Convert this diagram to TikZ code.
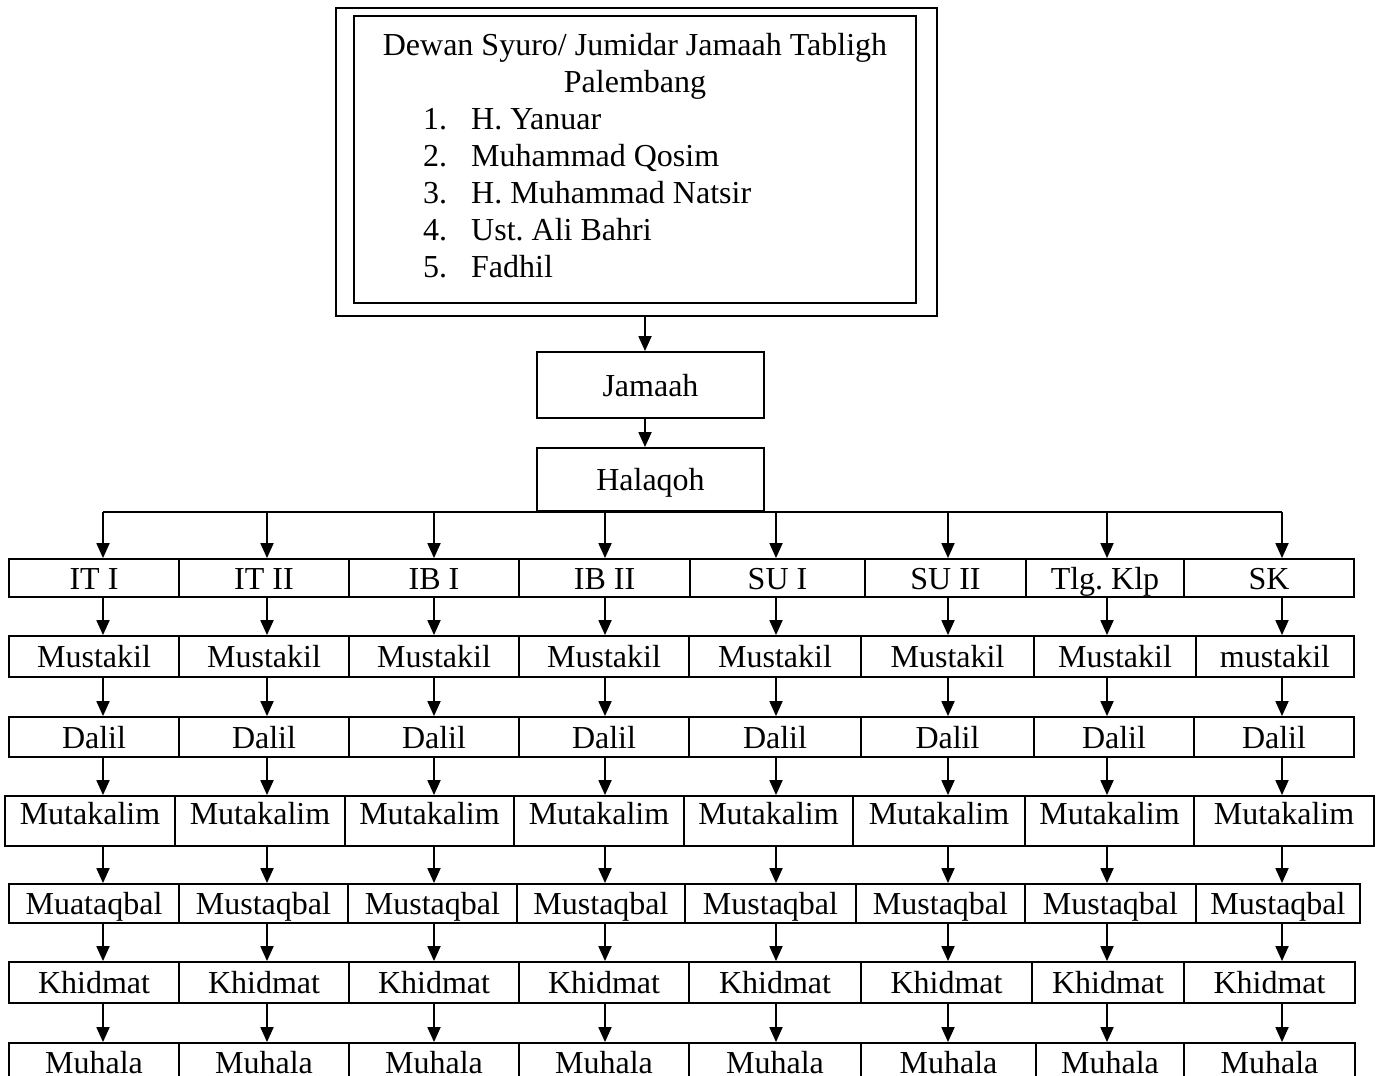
\documentclass[tikz,border=0pt]{standalone}
\usepackage{fontspec}
\setmainfont{Liberation Serif}
\usetikzlibrary{arrows.meta}
\frenchspacing

\tikzset{
  kotak/.style={draw, line width=1.8pt, inner sep=0pt},
  sel/.style={kotak, text height=22pt, text depth=0pt},
  panah/.style={line width=1.8pt, -{Triangle[length=15pt,width=13pt]}},
}

\begin{document}
\begin{tikzpicture}[x=1pt, y=-1pt, font=\fontsize{32}{37}\selectfont]
      \clip (0,0) rectangle (1376,1076);
      % dewan syuro
      \node[kotak, minimum width=601pt, minimum height=308pt] (luar) at (636.5,162) {};
      \node[kotak, minimum width=562pt, minimum height=287pt] (dewan) at (635,159.5) {};
      \node[anchor=base] (judul) at (635,55) {Dewan Syuro/ Jumidar Jamaah Tabligh};
      \node[anchor=base] (kota) at (635,92) {Palembang};
      \foreach \nm [count=\i] in {H. Yanuar, Muhammad Qosim, H. Muhammad Natsir, Ust. Ali Bahri, Fadhil} {
        \node[anchor=base west, inner sep=0pt] (no\i) at (423,92+37*\i) {\i.};
        \node[anchor=base west, inner sep=0pt] (nama\i) at (471,92+37*\i) {\nm};
      }
      \node[sel, minimum width=227pt, minimum height=66pt] (jamaah) at (650.5,385) {Jamaah};
      \node[sel, minimum width=227pt, minimum height=63pt] (halaqoh) at (650.5,479.5) {Halaqoh};
      \coordinate (xa) at (645,0);
      \draw[panah] (luar.south -| xa) -- (jamaah.north -| xa);
      \draw[panah] (jamaah.south -| xa) -- (halaqoh.north -| xa);
      % kolom
      \foreach \x [count=\c] in {103,267,434,605,776,948,1107,1282}
        \coordinate (k\c) at (\x,0);
      % baris
      \foreach \xa/\xb/\isi [count=\c] in {9/179/IT I, 179/349/IT II, 349/519/IB I, 519/690/IB II, 690/865/SU I, 865/1026/SU II, 1026/1184/Tlg. Klp, 1184/1354/SK} {
        \pgfmathsetmacro\w{\xb-\xa}
        \node[sel, minimum width=\w pt, minimum height=38pt] (it\c) at ({(\xa+\xb)/2},578) {\isi};
      }
      \foreach \xa/\xb/\isi [count=\c] in {9/179/Mustakil, 179/349/Mustakil, 349/519/Mustakil, 519/689/Mustakil, 689/861/Mustakil, 861/1034/Mustakil, 1034/1196/Mustakil, 1196/1354/mustakil} {
        \pgfmathsetmacro\w{\xb-\xa}
        \node[sel, minimum width=\w pt, minimum height=41pt] (mus\c) at ({(\xa+\xb)/2},656.5) {\isi};
      }
      \foreach \xa/\xb/\isi [count=\c] in {9/179/Dalil, 179/349/Dalil, 349/519/Dalil, 519/689/Dalil, 689/861/Dalil, 861/1034/Dalil, 1034/1194/Dalil, 1194/1354/Dalil} {
        \pgfmathsetmacro\w{\xb-\xa}
        \node[sel, minimum width=\w pt, minimum height=40pt] (dal\c) at ({(\xa+\xb)/2},737) {\isi};
      }
      \foreach \xa/\xb/\isi [count=\c] in {5/175/Mutakalim, 175/345/Mutakalim, 345/514/Mutakalim, 514/684/Mutakalim, 684/853/Mutakalim, 853/1025/Mutakalim, 1025/1194/Mutakalim, 1194/1374/Mutakalim} {
        \pgfmathsetmacro\w{\xb-\xa}
        \node[sel, text depth=16pt, minimum width=\w pt, minimum height=50pt] (mut\c) at ({(\xa+\xb)/2},821) {\isi};
      }
      \foreach \xa/\xb/\isi [count=\c] in {9/179/Muataqbal, 179/348/Mustaqbal, 348/517/Mustaqbal, 517/685/Mustaqbal, 685/856/Mustaqbal, 856/1025/Mustaqbal, 1025/1196/Mustaqbal, 1196/1360/Mustaqbal} {
        \pgfmathsetmacro\w{\xb-\xa}
        \node[sel, minimum width=\w pt, minimum height=39pt] (mq\c) at ({(\xa+\xb)/2},903.5) {\isi};
      }
      \foreach \xa/\xb/\isi [count=\c] in {9/179/Khidmat, 179/349/Khidmat, 349/519/Khidmat, 519/689/Khidmat, 689/861/Khidmat, 861/1032/Khidmat, 1032/1184/Khidmat, 1184/1355/Khidmat} {
        \pgfmathsetmacro\w{\xb-\xa}
        \node[sel, minimum width=\w pt, minimum height=41pt] (khi\c) at ({(\xa+\xb)/2},982.5) {\isi};
      }
      \foreach \xa/\xb/\isi [count=\c] in {9/179/Muhala, 179/349/Muhala, 349/519/Muhala, 519/689/Muhala, 689/861/Muhala, 861/1036/Muhala, 1036/1184/Muhala, 1184/1355/Muhala} {
        \pgfmathsetmacro\w{\xb-\xa}
        \node[sel, minimum width=\w pt, minimum height=38pt] (muh\c) at ({(\xa+\xb)/2},1062) {\isi};
      }
      % garis dan panah
      \draw[line width=1.8pt] (k1 |- halaqoh.south) -- (k8 |- halaqoh.south);
      \foreach \c in {1,...,8} {
        \draw[panah] (k\c |- halaqoh.south) -- (it\c.north -| k\c);
        \draw[panah] (it\c.south -| k\c) -- (mus\c.north -| k\c);
        \draw[panah] (mus\c.south -| k\c) -- (dal\c.north -| k\c);
        \draw[panah] (dal\c.south -| k\c) -- (mut\c.north -| k\c);
        \draw[panah] (mut\c.south -| k\c) -- (mq\c.north -| k\c);
        \draw[panah] (mq\c.south -| k\c) -- (khi\c.north -| k\c);
        \draw[panah] (khi\c.south -| k\c) -- (muh\c.north -| k\c);
      }
\end{tikzpicture}
\end{document}
